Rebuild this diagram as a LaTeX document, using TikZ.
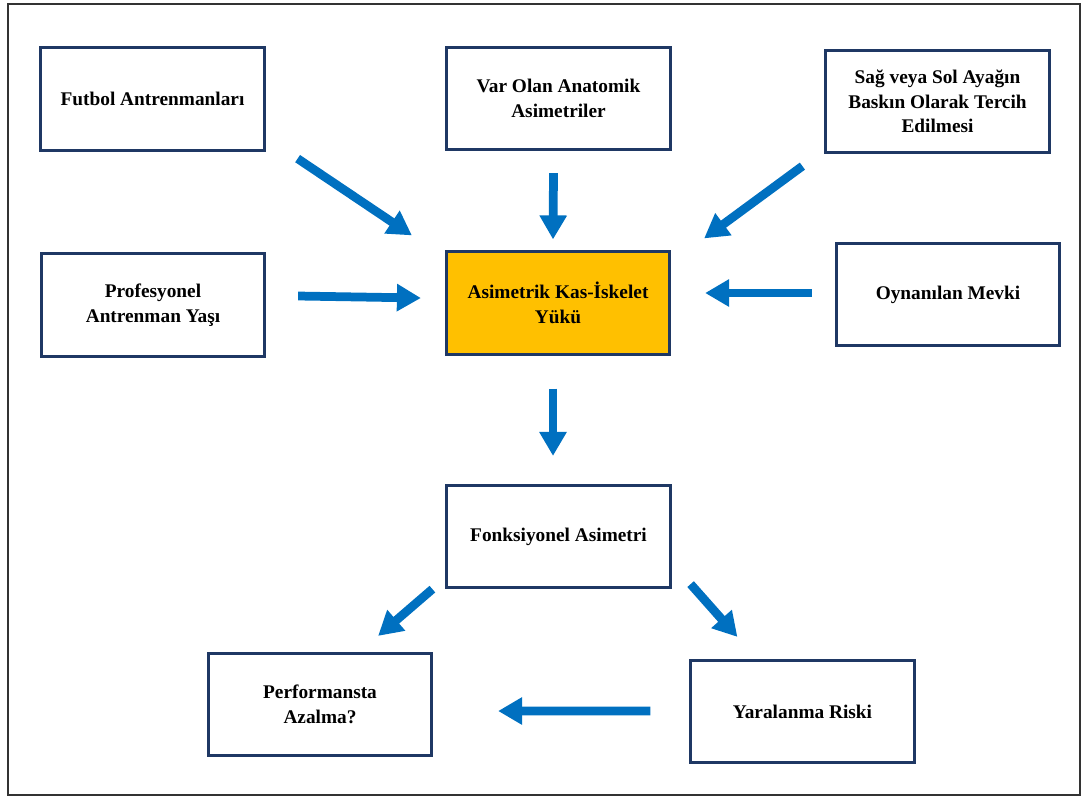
\documentclass[tikz,border=0pt]{standalone}
\usepackage{fontspec}
\setmainfont{Liberation Serif}
\usepackage{tikz}
\usetikzlibrary{arrows.meta}

\definecolor{arrowblue}{HTML}{0070C0}
\definecolor{boxline}{HTML}{1F3864}
\definecolor{loadfill}{HTML}{FFC000}

\begin{document}
\begin{tikzpicture}[
  x=0.02cm, y=-0.02cm,
  >={Triangle[length=0.48cm, width=0.52cm]},
  every node/.style={draw=boxline, line width=0.055cm, minimum width=4.47cm,
    minimum height=2.05cm, inner sep=0pt, align=center,
    font=\fontsize{11}{14}\selectfont\bfseries},
  loadbox/.style={fill=loadfill},
  flow/.style={->, draw=arrowblue, line width=0.175cm},
]
  \useasboundingbox (0,0) rectangle (1084,796);
  \draw[black!80, line width=0.04cm] (8,4) rectangle (1080,795);

  % Row 1: factors above
  \node (fut) at (152.5,99) {Futbol Antrenmanları};
  \node (var) at (558.5,98.5) {Var Olan Anatomik\\Asimetriler};
  \node (sag) at (937.5,101.5) {Sağ veya Sol Ayağın\\Baskın Olarak Tercih\\Edilmesi};

  % Row 2: side factors and the load
  \node (pro) at (153,305) {Profesyonel\\Antrenman Yaşı};
  \node[loadbox] (asim) at (558,303) {Asimetrik Kas-İskelet\\Yükü};
  \node (oyn) at (948,294.5) {Oynanılan Mevki};

  % Row 3: result
  \node (fonk) at (558.5,536.5) {Fonksiyonel Asimetri};

  % Row 4: outcomes
  \node (perf) at (320,704.5) {Performansta\\Azalma?};
  \node (yar) at (802.5,711.5) {Yaralanma Riski};

  % Arrows
  \draw[flow] ([shift={(32,7)}]fut.south east) -- ([shift={(-33,-15)}]asim.north west);
  \draw[flow] ([shift={(-5,22)}]var.south) -- ([shift={(-5,-11)}]asim.north);
  \draw[flow] ([shift={(-22,12)}]sag.south west) -- ([shift={(33,-12)}]asim.north east);
  \draw[flow] ([shift={(32,-9)}]pro.east) -- ([shift={(-24,-5)}]asim.west);
  \draw[flow] ([shift={(-23,-1.5)}]oyn.west) -- ([shift={(34,-10)}]asim.east);
  \draw[flow] ([shift={(-5,33)}]asim.south) -- ([shift={(-5.5,-28)}]fonk.north);
  \draw[flow] ([shift={(-13,0)}]fonk.south west) -- ([shift={(-55,-16)}]perf.north east);
  \draw[flow] ([shift={(19,-5)}]fonk.south east) -- ([shift={(48,-22)}]yar.north west);
  \draw[flow] ([shift={(-39,-0.5)}]yar.west) -- ([shift={(65,6.5)}]perf.east);
\end{tikzpicture}
\end{document}
